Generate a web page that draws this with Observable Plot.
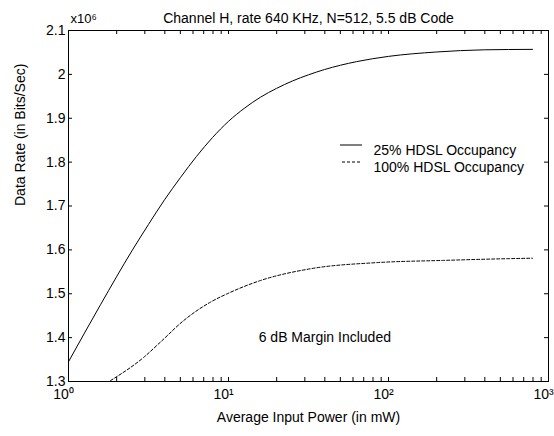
<!DOCTYPE html>
<html>
<head>
<meta charset="utf-8">
<script src="https://cdn.jsdelivr.net/npm/d3@7"></script>
<script src="https://cdn.jsdelivr.net/npm/@observablehq/plot@0.6"></script>
<style>
  html, body { margin: 0; padding: 0; background: white; }
</style>
</head>
<body>
<div id="chart"></div>
<script>
// ---- data (values in units of 10^6 bits/sec) ----
const solidX = [1, 1.585, 2.512, 3.162, 3.981, 5.012, 6.31, 7.943, 10, 12.59, 15.85, 19.95, 25.12, 31.62, 39.81, 63.1, 100, 199.5, 398.1, 794.3];
const solidY = [1.345, 1.475, 1.600, 1.658, 1.714, 1.765, 1.813, 1.856, 1.893, 1.923, 1.948, 1.968, 1.985, 1.999, 2.011, 2.029, 2.041, 2.051, 2.056, 2.057];
const dashedX = [1.83, 2.95, 3.76, 5.25, 7.72, 9.82, 15.8, 32.6, 84.9, 221, 565, 794];
const dashedY = [1.302, 1.355, 1.39, 1.439, 1.481, 1.500, 1.530, 1.557, 1.571, 1.576, 1.580, 1.581];
const seriesNames = ["25% HDSL Occupancy", "100% HDSL Occupancy"];
const xMajorTicks = [1, 10, 100, 1000];
const xMinorTicks = [2,3,4,5,6,7,8,9,20,30,40,50,60,70,80,90,200,300,400,500,600,700,800,900];
const yTicks = [1.3, 1.4, 1.5, 1.6, 1.7, 1.8, 1.9, 2.0, 2.1];
const titleText = "Channel H, rate 640 KHz, N=512, 5.5 dB Code";
const xLabel = "Average Input Power (in mW)";
const yLabel = "Data Rate (in Bits/Sec)";
const scaleText = "x10\u2076";
const annotations = [{x: 40, y: 1.40, text: "6 dB Margin Included"}];

const solid = solidX.map((x, i) => ({x, y: solidY[i]}));
const dashed = dashedX.map((x, i) => ({x, y: dashedY[i]}));

const W = 554, H = 436;
const mT = 30, mR = 6, mB = 55, mL = 68;
const innerW = W - mL - mR, innerH = H - mT - mB;
const tickLen = 4;
const sup = {"0": "\u2070", "1": "\u00b9", "2": "\u00b2", "3": "\u00b3"};
const font = "'Liberation Sans', Arial, Helvetica, sans-serif";

const allX = xMajorTicks.concat(xMinorTicks);

const chart = Plot.plot({
  width: W, height: H,
  marginTop: mT, marginRight: mR, marginBottom: mB, marginLeft: mL,
  style: {fontFamily: font, fontSize: "14px", background: "white", color: "black"},
  x: {type: "log", domain: [1, 1000]},
  y: {domain: [1.3, 2.1]},
  marks: [
    // tick labels
    Plot.axisX({ticks: xMajorTicks, tickSize: 0, tickPadding: 8, label: null,
      tickFormat: d => "10" + sup[String(Math.round(Math.log10(d)))], dx: -5, fontSize: 14}),
    Plot.axisY({ticks: yTicks, tickSize: 0, tickPadding: 3, label: null,
      tickFormat: d => d3.format("~g")(d), fontSize: 14}),
    // inward ticks, bottom & top
    Plot.ruleX(allX, {x: d => d, insetTop: innerH - tickLen, stroke: "black", strokeWidth: 1}),
    Plot.ruleX(allX, {x: d => d, insetBottom: innerH - tickLen, stroke: "black", strokeWidth: 1}),
    // inward ticks, left & right
    Plot.ruleY(yTicks, {y: d => d, insetRight: innerW - tickLen, stroke: "black", strokeWidth: 1}),
    Plot.ruleY(yTicks, {y: d => d, insetLeft: innerW - tickLen, stroke: "black", strokeWidth: 1}),
    // curves
    Plot.line(solid, {x: "x", y: "y", stroke: "black", strokeWidth: 1, curve: "monotone-x"}),
    Plot.line(dashed, {x: "x", y: "y", stroke: "black", strokeWidth: 1, strokeDasharray: "3,2", curve: "monotone-x"}),
    Plot.frame({stroke: "black", strokeWidth: 1}),
    // texts
    Plot.text([titleText], {frameAnchor: "top", dy: -17, fontSize: 14}),
    Plot.text([scaleText], {frameAnchor: "top-left", dx: 2, dy: -17, textAnchor: "start", fontSize: 13}),
    Plot.text([xLabel], {frameAnchor: "bottom", dy: 40, fontSize: 14}),
    Plot.text([yLabel], {frameAnchor: "left", dx: -48, rotate: -90, fontSize: 14}),
    Plot.text(annotations, {x: "x", y: "y", text: "text", fontSize: 14}),
    Plot.text([seriesNames[0]], {frameAnchor: "top-left", dx: 305, dy: 115, textAnchor: "start", fontSize: 14}),
    Plot.text([seriesNames[1]], {frameAnchor: "top-left", dx: 305, dy: 132, textAnchor: "start", fontSize: 14})
  ]
});

// legend line samples
const svg = d3.select(chart);
const lg = svg.append("g").attr("stroke", "black").attr("stroke-width", 1).attr("fill", "none");
lg.append("line").attr("x1", mL + 272).attr("x2", mL + 294).attr("y1", mT + 115).attr("y2", mT + 115);
lg.append("line").attr("x1", mL + 274).attr("x2", mL + 294).attr("y1", mT + 132).attr("y2", mT + 132)
  .attr("stroke-dasharray", "3,2");

document.getElementById("chart").appendChild(chart);
</script>
</body>
</html>
